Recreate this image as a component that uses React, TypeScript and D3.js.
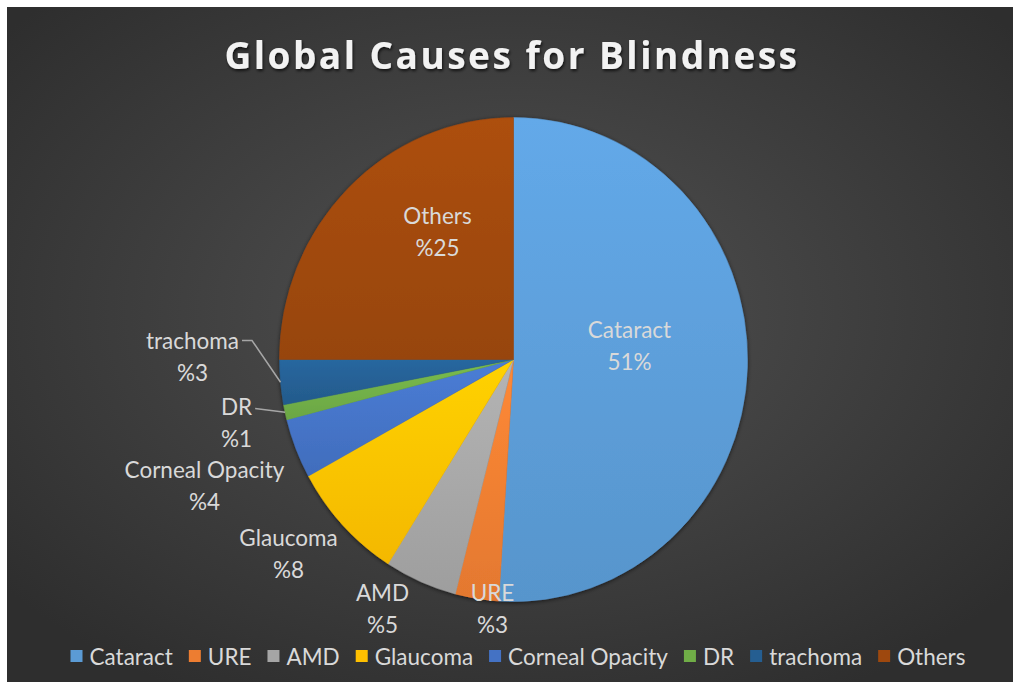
import React, { useEffect, useRef } from "react";
import * as d3 from "d3";

const title = "Global Causes for Blindness";
const categories = ["Cataract", "URE", "AMD", "Glaucoma", "Corneal Opacity", "DR", "trachoma", "Others"];
const values = [51, 3, 5, 8, 4, 1, 3, 25];
const valueLabels = ["51%", "%3", "%5", "%8", "%4", "%1", "%3", "%25"];
const colors = ["#5B9BD5", "#ED7D31", "#A5A5A5", "#FFC000", "#4472C4", "#70AD47", "#255E91", "#9E480E"];

// label block centre offsets from pie centre (layout only)
const labelLayout: { dx: number; dy: number; leader?: number }[] = [
  { dx: 116, dy: -14 },
  { dx: -21, dy: 249 },
  { dx: -131, dy: 249 },
  { dx: -225, dy: 194 },
  { dx: -309, dy: 126 },
  { dx: -277, dy: 63, leader: 0 },
  { dx: -321, dy: -3, leader: 10 },
  { dx: -76, dy: -128 },
];

const W = 1013;
const H = 682;

export default function App() {
  const ref = useRef<SVGSVGElement>(null);

  useEffect(() => {
    const svg = d3.select(ref.current);
    svg.selectAll("*").remove();
    const defs = svg.append("defs");

    const bg = defs.append("radialGradient").attr("id", "bg").attr("cx", "50%").attr("cy", "45%").attr("r", "65%");
    bg.append("stop").attr("offset", "0%").attr("stop-color", "#525252");
    bg.append("stop").attr("offset", "100%").attr("stop-color", "#2e2e2e");

    const ts = defs.append("filter").attr("id", "tshadow").attr("x", "-10%").attr("y", "-30%").attr("width", "120%").attr("height", "160%");
    ts.append("feDropShadow").attr("dx", 1).attr("dy", 2).attr("stdDeviation", 1.5).attr("flood-color", "#000").attr("flood-opacity", 0.7);

    const ps = defs.append("filter").attr("id", "pshadow").attr("x", "-10%").attr("y", "-10%").attr("width", "120%").attr("height", "120%");
    ps.append("feDropShadow").attr("dx", 0).attr("dy", 1).attr("stdDeviation", 2).attr("flood-color", "#000").attr("flood-opacity", 0.6);

    colors.forEach((c, i) => {
      const g = defs.append("linearGradient").attr("id", `g${i}`).attr("x1", 0).attr("y1", 0).attr("x2", 0).attr("y2", 1);
      g.append("stop").attr("offset", "0%").attr("stop-color", d3.color(c)!.brighter(0.25).formatHex());
      g.append("stop").attr("offset", "100%").attr("stop-color", d3.color(c)!.darker(0.12).formatHex());
    });

    svg.append("rect").attr("width", W).attr("height", H).attr("fill", "#ffffff");
    svg.append("rect").attr("x", 7).attr("y", 7).attr("width", W - 7).attr("height", H - 7).attr("fill", "url(#bg)");

    const tt = svg.append("text")
      .attr("x", 512).attr("y", 69)
      .attr("text-anchor", "middle")
      .attr("font-family", "'Open Sans', Lato, sans-serif")
      .attr("font-weight", 700)
      .attr("font-size", 37)
      .attr("letter-spacing", 1.5)
      .attr("fill", "#f2f2f2")
      .attr("filter", "url(#tshadow)")
      .text(title);
    // fit title to reference width
    const tw = (tt.node() as SVGTextElement).getComputedTextLength();
    if (tw > 0) {
      const extra = (575 - tw) / title.length;
      tt.attr("letter-spacing", 1.5 + extra);
    }

    const cx = 513.5, cy = 359.5, r = 234, sy = 242 / 234;
    const pie = d3.pie<number>().sort(null).value((d) => d);
    const arcs = pie(values);
    const arc = d3.arc<d3.PieArcDatum<number>>().innerRadius(0).outerRadius(r);

    const pg = svg.append("g").attr("transform", `translate(${cx},${cy}) scale(1,${sy})`).attr("filter", "url(#pshadow)");
    pg.selectAll("path").data(arcs).join("path")
      .attr("d", arc as any)
      .attr("fill", (_, i) => `url(#g${i})`)
      .attr("stroke", (_, i) => colors[i])
      .attr("stroke-width", 0.5);

    const font = "Lato, 'Open Sans', sans-serif";
    const fs = 22.5;
    const lg = svg.append("g");
    arcs.forEach((a, i) => {
      const L = labelLayout[i];
      const lx = cx + L.dx, ly = cy + L.dy;
      const t = lg.append("text")
        .attr("x", lx).attr("y", ly - 16)
        .attr("text-anchor", "middle").attr("dominant-baseline", "central")
        .attr("font-family", font).attr("font-size", fs).attr("fill", "#d9d9d9")
        .text(categories[i]);
      lg.append("text")
        .attr("x", lx).attr("y", ly + 16)
        .attr("text-anchor", "middle").attr("dominant-baseline", "central")
        .attr("font-family", font).attr("font-size", fs).attr("fill", "#d9d9d9")
        .text(valueLabels[i]);
      if (L.leader !== undefined) {
        const w = (t.node() as SVGTextElement).getComputedTextLength();
        const sx = lx + w / 2 + 3, sy0 = ly - 16 + (L.leader ? 0 : 2);
        const mid = (a.startAngle + a.endAngle) / 2;
        const ex = cx + r * Math.sin(mid), ey = cy - r * sy * Math.cos(mid);
        const pts: [number, number][] = [[sx, sy0], [sx + L.leader, sy0], [ex, ey]];
        lg.append("path").attr("d", d3.line()(pts)!).attr("fill", "none").attr("stroke", "#a6a6a6").attr("stroke-width", 1.5);
      }
    });

    // legend
    const leg = svg.append("g");
    const items: { w: number }[] = [];
    const sq = 12, gap1 = 7, gap2 = 16;
    const tmp = categories.map((c) => {
      const t = leg.append("text").attr("font-family", font).attr("font-size", fs).attr("fill", "#d9d9d9").attr("y", 665).text(c);
      return t;
    });
    let total = 0;
    tmp.forEach((t, i) => {
      const w = (t.node() as SVGTextElement).getComputedTextLength();
      items.push({ w });
      total += sq + gap1 + w + (i < tmp.length - 1 ? gap2 : 0);
    });
    let x = 518 - total / 2;
    tmp.forEach((t, i) => {
      leg.append("rect").attr("x", x).attr("y", 650).attr("width", sq).attr("height", sq).attr("fill", colors[i]);
      t.attr("x", x + sq + gap1);
      x += sq + gap1 + items[i].w + gap2;
    });
  }, []);

  return (
    <div style={{ position: "fixed", left: 0, top: 0, width: W, height: H }}>
      <svg ref={ref} width={W} height={H} style={{ display: "block" }} />
    </div>
  );
}
